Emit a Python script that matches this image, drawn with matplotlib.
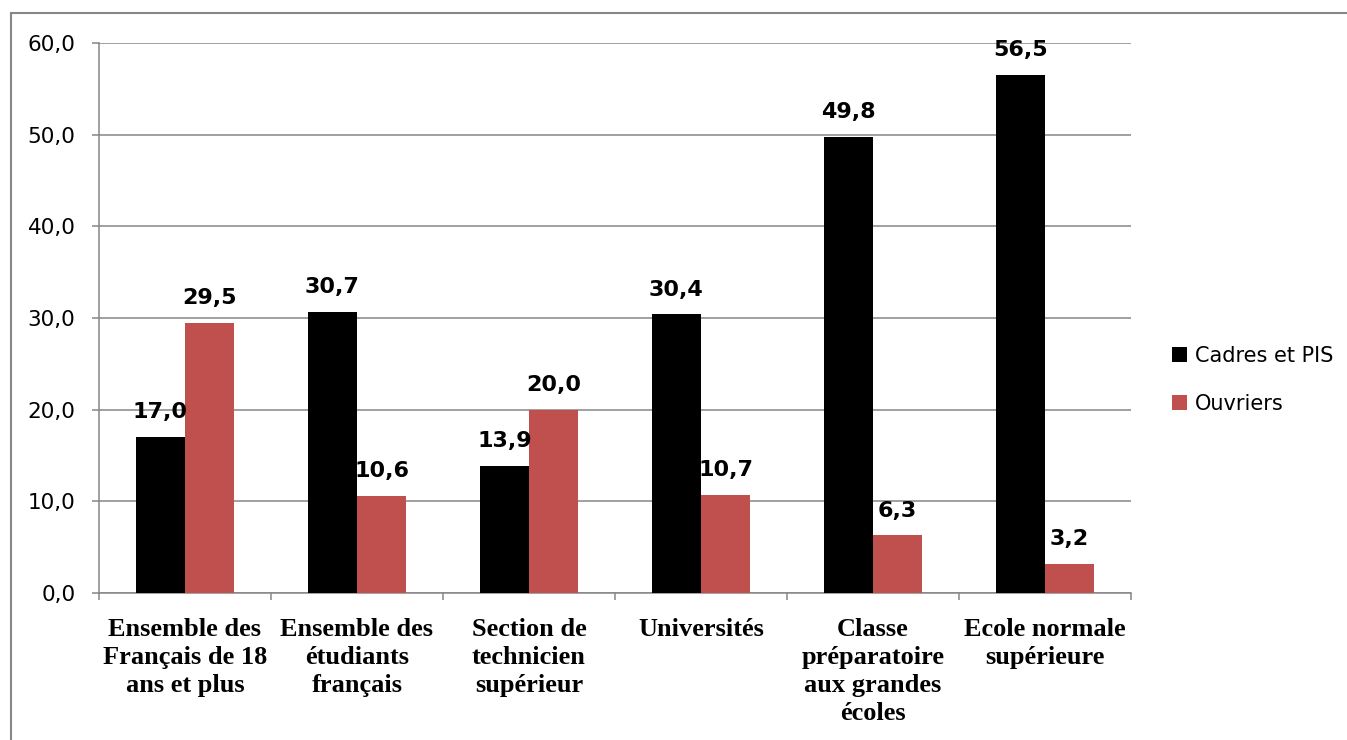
import matplotlib.pyplot as plt
import matplotlib.patches as mpatches
import numpy as np

categories = ["Ensemble des\nFrançais de 18\nans et plus",
              "Ensemble des\nétudiants\nfrançais",
              "Section de\ntechnicien\nsupérieur",
              "Universités",
              "Classe\npréparatoire\naux grandes\nécoles",
              "Ecole normale\nsupérieure"]
cadres = [17.0, 30.7, 13.9, 30.4, 49.8, 56.5]
ouvriers = [29.5, 10.6, 20.0, 10.7, 6.3, 3.2]
yticks = [0, 10, 20, 30, 40, 50, 60]

grey = '#868686'
fig = plt.figure(figsize=(13.47, 7.40), dpi=100)
ax = fig.add_axes([99/1347, 1 - 593/740, 1032/1347, 550/740])

# cadre autour du graphique (coupe a droite et en bas)
border = mpatches.Rectangle((11/1347, -0.2), 1.2, 0.2 + (740-13)/740,
                            transform=fig.transFigure, fill=False,
                            edgecolor=grey, linewidth=1.5, clip_on=False)
fig.patches.append(border)

x = np.arange(len(categories))
w = 0.286
b1 = ax.bar(x - w/2, cadres, w, color='#000000', label='Cadres et PIS', zorder=3)
b2 = ax.bar(x + w/2, ouvriers, w, color='#C0504D', label='Ouvriers', zorder=3)

for bars, vals in [(b1, cadres), (b2, ouvriers)]:
    for r, v in zip(bars, vals):
        ax.annotate(f"{v:.1f}".replace('.', ','),
                    (r.get_x() + r.get_width()/2, v),
                    xytext=(0, 13.5), textcoords='offset points',
                    ha='center', va='baseline', fontsize=16,
                    fontweight='bold', family='DejaVu Sans', zorder=4)

ax.set_xlim(-0.5, len(categories) - 0.5)
ax.set_ylim(0, 60)
ax.set_yticks(yticks)
ax.set_yticklabels([f"{t:.1f}".replace('.', ',') for t in yticks],
                   fontsize=15.5, family='DejaVu Sans')
ax.yaxis.grid(True, color=grey, linewidth=1.1, zorder=0)
ax.set_axisbelow(True)

ax.set_xticks(x)
ax.set_xticklabels(categories, fontsize=19, fontweight='bold',
                   family='Liberation Serif', linespacing=1.28, va='top')
ax.set_xticks(np.arange(-0.5, len(categories)), minor=True)
ax.tick_params(axis='x', which='major', length=0, pad=18)
ax.tick_params(axis='x', which='minor', length=5, width=1.1, color=grey)
ax.tick_params(axis='y', length=5, width=1.1, color=grey, pad=12)

for s in ['top', 'right']:
    ax.spines[s].set_visible(False)
for s in ['left', 'bottom']:
    ax.spines[s].set_color(grey)
    ax.spines[s].set_linewidth(1.1)

fig.legend(handles=[b1, b2], loc='center left',
           bbox_to_anchor=(1153/1347, 1 - 380/740), frameon=False,
           prop={'family': 'DejaVu Sans', 'size': 15},
           handlelength=0.75, handleheight=0.75, handletextpad=0.35,
           labelspacing=1.35)

fig.savefig('out.png', dpi=100)
